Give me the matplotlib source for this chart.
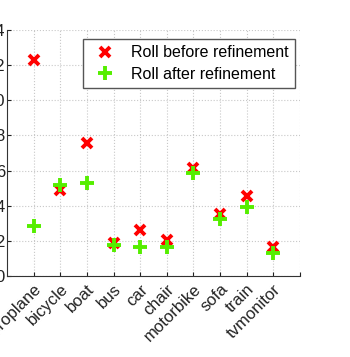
import numpy as np
import matplotlib
matplotlib.use("Agg")
import matplotlib.pyplot as plt

plt.rcParams['font.family'] = ['Liberation Sans', 'DejaVu Sans']

# classes et valeurs
classes = ["aeroplane", "bicycle", "boat", "bus", "car", "chair",
           "motorbike", "sofa", "train", "tvmonitor"]
roll_avant = [12.3, 4.9, 7.55, 1.88, 2.62, 2.05, 6.15, 3.53, 4.57, 1.65]
roll_apres = [2.85, 5.18, 5.27, 1.76, 1.67, 1.65, 5.88, 3.24, 3.95, 1.31]
yticks = [0, 2, 4, 6, 8, 10, 12, 14]

fig = plt.figure(figsize=(3.5, 3.57), dpi=100)
ax = fig.add_axes([7/350, 1-276/357, 293/350, 246/357])

x = np.arange(1, len(classes) + 1)
ax.plot(x, roll_avant, linestyle='none', marker='x', color='#ff0000',
        markersize=6.5, markeredgewidth=2.8, label="Roll before refinement")
ax.plot(x, roll_apres, linestyle='none', marker='+', color='#55ee00',
        markersize=10, markeredgewidth=2.8, label="Roll after refinement")

ax.set_xlim(0, 11)
ax.set_ylim(0, 14)
ax.set_xticks(list(x) + [11])
ax.set_xticklabels(classes + [""], rotation=45, ha='right', rotation_mode='anchor', fontsize=12)
ax.set_yticks(yticks)
ax.set_yticklabels([str(v) for v in yticks], fontsize=12)
ax.tick_params(direction='in', length=3, width=0.8, colors='#222222')
ax.tick_params(axis='x', pad=4)
ax.tick_params(axis='y', pad=1.5)
ax.grid(True, linestyle=':', color='#c8c8c8', linewidth=0.8)
ax.spines['top'].set_visible(False)
ax.spines['right'].set_visible(False)
for s in ['left', 'bottom']:
    ax.spines[s].set_color('#333333')
    ax.spines[s].set_linewidth(0.8)

leg = ax.legend(loc='upper right', bbox_to_anchor=(288/293, 1 - 9/246), borderaxespad=0,
                fontsize=11.5, fancybox=False, framealpha=1, edgecolor='#555555',
                handletextpad=0.6, borderpad=0.4, labelspacing=0.4)
leg.get_frame().set_linewidth(1.0)

fig.savefig("out.png", dpi=100)
